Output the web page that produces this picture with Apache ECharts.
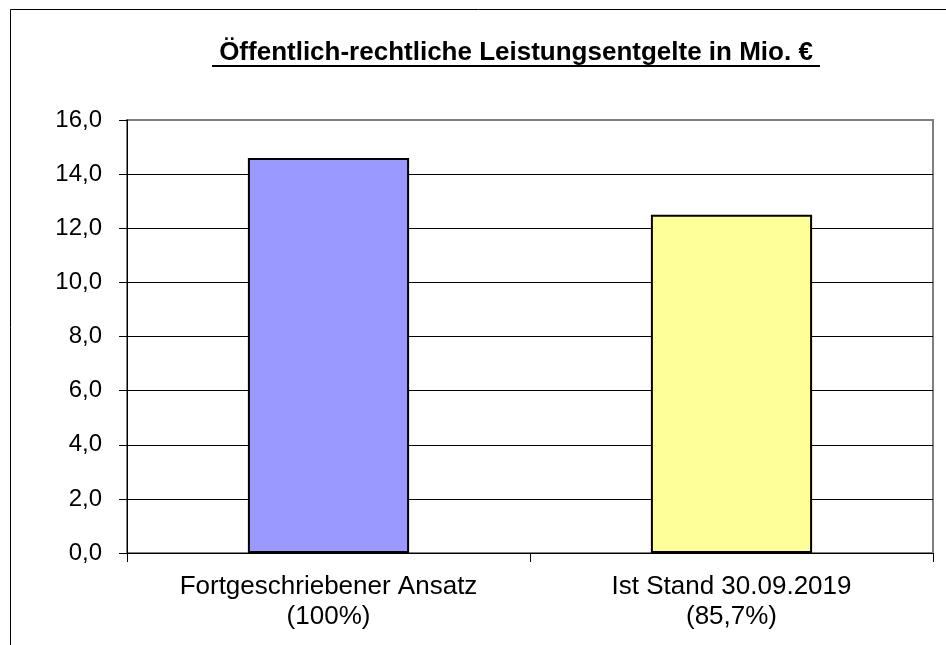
<!DOCTYPE html>
<html>
<head>
<meta charset="utf-8">
<script src="https://cdn.jsdelivr.net/npm/echarts@6/dist/echarts.min.js"></script>
<style>
  html, body { margin: 0; padding: 0; background: #fff; }
  #main { width: 946px; height: 645px; }
</style>
</head>
<body>
<div id="main"></div>
<script>
var titleText = 'Öffentlich-rechtliche Leistungsentgelte in Mio. €';
var categories = ['Fortgeschriebener Ansatz\n(100%)', 'Ist Stand 30.09.2019\n(85,7%)'];
var values = [14.6, 12.5];
var barColors = ['#9999FF', '#FFFF99'];

var dom = document.getElementById('main');
var myChart = echarts.init(dom);
var font = 'Arial, "Liberation Sans", sans-serif';

option = {
    backgroundColor: '#fff',
    animation: false,
    graphic: [{
        // outer frame (only left/top visible)
        type: 'rect',
        shape: { x: 10.5, y: 9.5, width: 1000, height: 1000 },
        style: { fill: 'none', stroke: '#000', lineWidth: 1 },
        silent: true
    }, {
        type: 'text',
        x: 516,
        y: 40,
        style: {
            text: titleText,
            fill: '#000',
            font: 'bold 26px ' + font,
            textAlign: 'center',
            textVerticalAlign: 'top'
        }
    }, {
        // title underline
        type: 'rect',
        shape: { x: 212, y: 65, width: 608, height: 2 },
        style: { fill: '#000' },
        silent: true
    }],
    grid: {
        left: 127,
        right: 13,
        top: 120,
        bottom: 92,
        show: true,
        borderColor: '#808080',
        borderWidth: 2,
        backgroundColor: '#fff'
    },
    xAxis: {
        type: 'category',
        data: categories,
        axisLine: { show: true, lineStyle: { color: '#000', width: 1 } },
        axisTick: { show: true, alignWithLabel: false, length: 9, lineStyle: { color: '#000' } },
        axisLabel: {
            color: '#000',
            fontFamily: font,
            fontSize: 26,
            lineHeight: 30,
            margin: 19,
            interval: 0
        }
    },
    yAxis: {
        type: 'value',
        min: 0,
        max: 16,
        interval: 2,
        axisLine: { show: true, lineStyle: { color: '#000', width: 1 } },
        axisTick: { show: true, length: 8, lineStyle: { color: '#000' } },
        axisLabel: {
            color: '#000',
            fontFamily: font,
            fontSize: 24,
            margin: 25,
            formatter: function (v) { return v.toFixed(1).replace('.', ','); }
        },
        splitLine: {
            show: true,
            showMaxLine: false,
            lineStyle: { color: '#000', width: 1 }
        }
    },
    series: [{
        type: 'bar',
        data: values.map(function (v, i) {
            return { value: v, itemStyle: { color: barColors[i] } };
        }),
        barCategoryGap: '60%',
        itemStyle: {
            borderColor: '#000',
            borderWidth: 2
        }
    }]
};
myChart.setOption(option, true);
</script>
</body>
</html>
